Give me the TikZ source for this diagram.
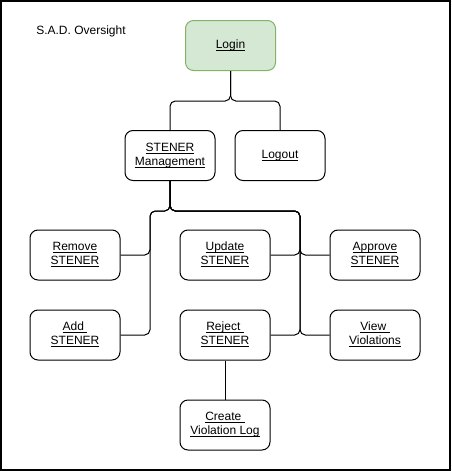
\documentclass[tikz,border=0pt]{standalone}
\usepackage{fontspec}
\setmainfont{Liberation Sans}
\usepackage{tikz}
\usetikzlibrary{positioning, calc}
\definecolor{loginfill}{HTML}{D5E8D4}
\definecolor{logindraw}{HTML}{82B366}

\newcommand{\ulx}[1]{\underline{\smash{#1}\vphantom{A}}}

\begin{document}
\begin{tikzpicture}[
    x=0.75pt, y=-0.75pt,
    page box/.style={draw=#1, fill=white, rounded corners=6pt, line width=0.75pt,
                     minimum width=67.5pt, minimum height=37.5pt, align=center,
                     font=\fontsize{9}{10.5}\selectfont, inner sep=1pt},
    link/.style={draw=black, line width=0.75pt, rounded corners=4pt},
]
    \useasboundingbox (0,0) rectangle (451,471);
    \draw[line width=1.5pt] (1,1) rectangle (450,470);

    % title
    \node[anchor=west, font=\fontsize{9}{10.5}\selectfont, inner sep=0pt] (title) at (36,31) {S.A.D. Oversight};

    % Row 1
    \node[page box=logindraw, fill=loginfill] (login) at (230.5,45.5) {\ulx{Login}};

    % Row 2
    \node[page box=black] (mgmt) at (170,155.5) {\ulx{STENER}\\\ulx{Management}};
    \node[page box=black] (logout) at (280,155.5) {\ulx{Logout}};

    % Row 3
    \node[page box=black] (remove) at (75,255) {\ulx{Remove}\\\ulx{STENER}};
    \node[page box=black] (update) at (225,255) {\ulx{Update}\\\ulx{STENER}};
    \node[page box=black] (approve) at (375,255) {\ulx{Approve}\\\ulx{STENER}};

    % Row 4
    \node[page box=black] (add) at (75,335) {\ulx{Add\ }\\\ulx{STENER}};
    \node[page box=black] (reject) at (225,335) {\ulx{Reject\ }\\\ulx{STENER}};
    \node[page box=black] (view) at (375,335) {\ulx{View\ }\\\ulx{Violations}};

    % Row 5
    \node[page box=black] (create) at (225,425) {\ulx{Create\ }\\\ulx{Violation Log}};

    % Links from Login
    \draw[link] (login.south) -- ++(0,30) -| (mgmt.north);
    \draw[link] (login.south) -- ++(0,30) -| (logout.north);

    % Links from STENER Management
    \draw[link] (mgmt.south) -- ++(0,30) -- ++(-20,0) |- (remove.east);
    \draw[link] (mgmt.south) -- ++(0,30) -- ++(-20,0) |- (add.east);
    \draw[link] (mgmt.south) -- ++(0,30) -- ++(130,0) |- (update.east);
    \draw[link] (mgmt.south) -- ++(0,30) -- ++(130,0) |- (approve.west);
    \draw[link] (mgmt.south) -- ++(0,30) -- ++(130,0) |- (reject.east);
    \draw[link] (mgmt.south) -- ++(0,30) -- ++(130,0) |- (view.west);

    % Reject to log
    \draw[link] (reject.south) -- (create.north);
\end{tikzpicture}
\end{document}
